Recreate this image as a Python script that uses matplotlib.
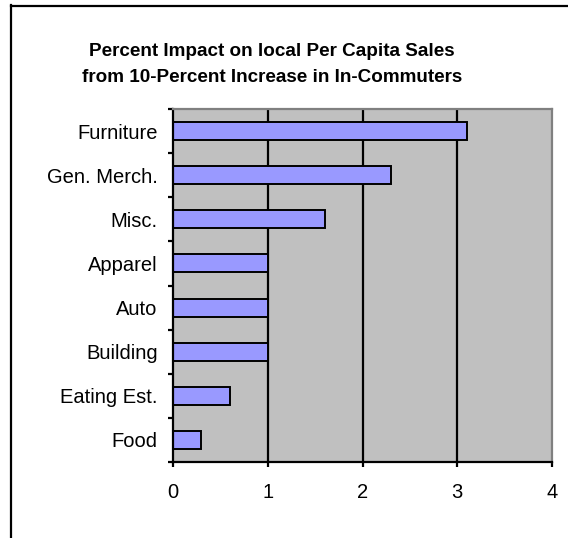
import numpy as np
import matplotlib
matplotlib.use('Agg')
from matplotlib import pyplot as plt

categories = ['Furniture', 'Gen. Merch.', 'Misc.', 'Apparel', 'Auto',
              'Building', 'Eating Est.', 'Food']
impact = [3.1, 2.3, 1.6, 1.0, 1.0, 1.0, 0.6, 0.3]
x_ticks = [0, 1, 2, 3, 4]

plt.rcParams['font.family'] = ['Liberation Sans', 'DejaVu Sans']

W, H = 568, 538
fig = plt.figure(figsize=(W / 100, H / 100), dpi=100)
fig.patch.set_facecolor('white')

# outer chart border (left and top only visible)
fig.add_artist(plt.Line2D([11 / W, 11 / W], [0, 1 - 5 / H], color='black', lw=1.6))
fig.add_artist(plt.Line2D([11 / W, 1], [1 - 6 / H, 1 - 6 / H], color='black', lw=1.6))

left, right, top, bottom = 173, 552, 109, 462
axe = fig.add_axes([left / W, 1 - bottom / H, (right - left) / W, (bottom - top) / H])
axe.set_facecolor('#C0C0C0')

n = len(categories)
ypos = np.arange(n)[::-1]
axe.set_xlim(0, 4)
axe.set_ylim(-0.5, n - 0.5)

for x in x_ticks[1:-1]:
    axe.axvline(x, color='black', lw=1.6, zorder=1)

axe.barh(ypos, impact, height=0.41, color='#9999FF', edgecolor='black',
         linewidth=1.4, zorder=2)

axe.set_xticks(x_ticks)
axe.set_xticklabels([str(v) for v in x_ticks], fontsize=14.5)
axe.set_yticks(ypos)
axe.set_yticklabels(categories, fontsize=14.5)
axe.set_yticks(np.arange(n + 1) - 0.5, minor=True)
axe.tick_params(axis='y', which='major', length=0, pad=11)
axe.tick_params(axis='y', which='minor', length=3.6, width=1.6, direction='out')
axe.tick_params(axis='x', length=3.6, width=1.6, direction='out', pad=11.5)

for s in ['left', 'bottom']:
    axe.spines[s].set_linewidth(1.6)
    axe.spines[s].set_color('black')
for s in ['right', 'top']:
    axe.spines[s].set_linewidth(1.6)
    axe.spines[s].set_color('#808080')

fig.text(272 / W, 1 - 82 / H,
         'Percent Impact on local Per Capita Sales\nfrom 10-Percent Increase in In-Commuters',
         ha='center', va='baseline', fontsize=13.6, fontweight='bold', linespacing=1.68)

plt.savefig('out.png', dpi=100)
